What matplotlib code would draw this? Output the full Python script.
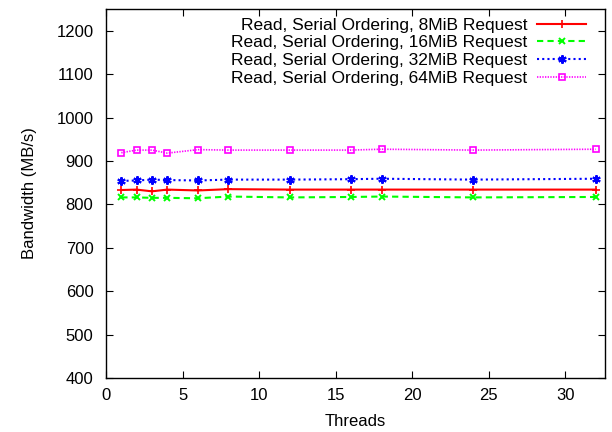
import matplotlib
matplotlib.use("Agg")
import matplotlib.pyplot as plt

# ── Data ───────────────────────────────────────────────────────────────────────
threads = [1, 2, 3, 4, 6, 8, 12, 16, 18, 24, 32]
bw_8mib  = [833, 834, 830, 834, 832, 835, 834, 834, 834, 834, 834]
bw_16mib = [816, 816, 815, 815, 814, 818, 816, 817, 818, 816, 817]
bw_32mib = [854, 855, 857, 856, 855, 857, 857, 858, 859, 857, 859]
bw_64mib = [919, 925, 925, 918, 926, 925, 925, 925, 927, 925, 927]

labels = [
    "Read, Serial Ordering, 8MiB Request",
    "Read, Serial Ordering, 16MiB Request",
    "Read, Serial Ordering, 32MiB Request",
    "Read, Serial Ordering, 64MiB Request",
]

plt.rcParams["font.family"] = ["Liberation Sans", "DejaVu Sans"]
plt.rcParams["font.size"] = 12

fig = plt.figure(figsize=(6.12, 4.32), dpi=100)
ax = fig.add_axes([106 / 612, 1 - 378 / 432, (605 - 106) / 612, (378 - 9) / 432])

ax.plot(threads, bw_8mib, color="#ff0000", lw=1.5, ls="-",
        marker="+", ms=6, mew=1.2, label=labels[0])
ax.plot(threads, bw_16mib, color="#00ff00", lw=1.5, ls=(0, (3, 2)),
        marker="x", ms=5, mew=1.4, label=labels[1])
ax.plot(threads, bw_32mib, color="#0000ff", lw=1.5, ls=(0, (1, 1.5)),
        marker=(6, 2, 0), ms=6, mew=1.5, label=labels[2])
ax.plot(threads, bw_64mib, color="#ff00ff", lw=1.2, ls=(0, (0.8, 0.8)),
        marker="s", ms=5, mew=1.2, mfc="none", label=labels[3])

ax.set_xlim(0, 32.6)
ax.set_ylim(400, 1250)
ax.set_xticks(range(0, 31, 5))
ax.set_yticks(range(400, 1201, 100))
ax.tick_params(direction="in", top=True, right=True, length=5, width=0.8,
               labelsize=12)
ax.tick_params(axis="y", pad=9)
ax.tick_params(axis="x", pad=7)
for sp in ax.spines.values():
    sp.set_linewidth(1.0)

ax.set_xlabel("Threads", labelpad=8)
ax.set_ylabel("Bandwidth (MB/s)", labelpad=14)

ax.legend(loc="upper right", frameon=False, markerfirst=False,
          handlelength=2.8, handletextpad=0.6, labelspacing=0.15,
          borderaxespad=0, borderpad=0, fontsize=12.5,
          bbox_to_anchor=(0.962, 0.977))

fig.savefig("out.png", dpi=100)
